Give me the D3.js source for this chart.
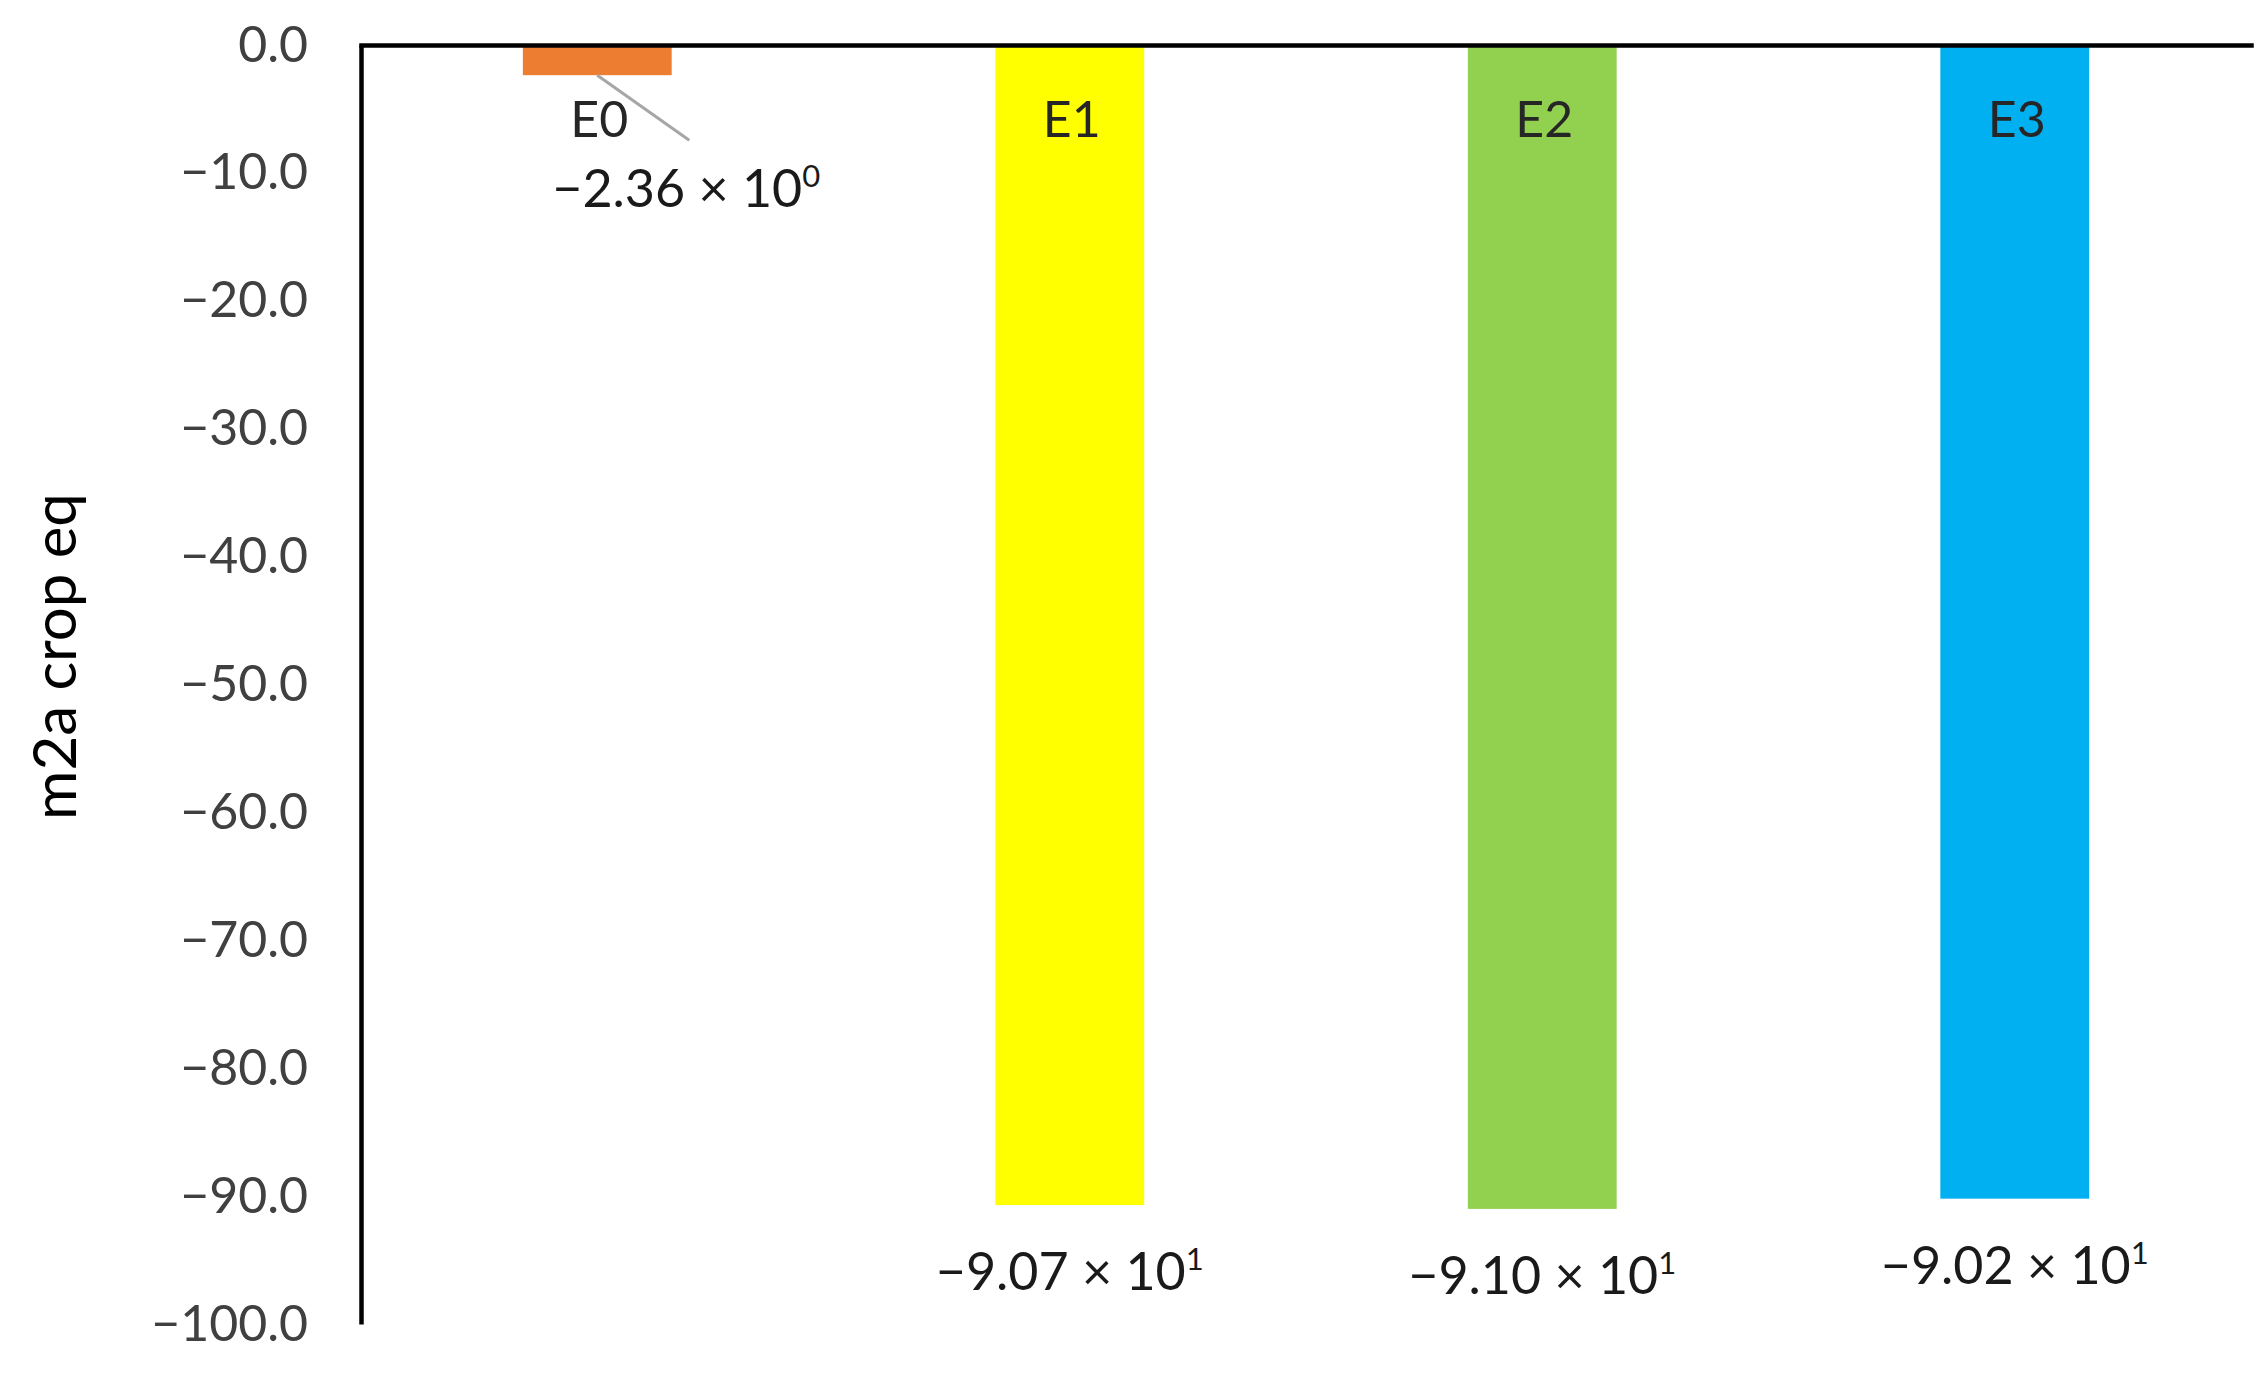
<!DOCTYPE html>
<html>
<head>
<meta charset="utf-8">
<script src="https://cdn.jsdelivr.net/npm/d3@7"></script>
<style>
  html, body { margin: 0; padding: 0; background: #fff; }
  svg { display: block; font-family: Lato, "Open Sans", sans-serif; }
</style>
</head>
<body>
<svg id="chart" width="2267" height="1374"></svg>
<script>
// ---- data ----
const categories = ["E0", "E1", "E2", "E3"];
const values = [-2.36, -90.7, -91.0, -90.2];
const valueMantissa = ["−2.36", "−9.07", "−9.10", "−9.02"];
const valueExponent = ["0", "1", "1", "1"];
const barColors = ["#ED7D31", "#FFFF00", "#92D050", "#00B0F0"];
const yTicks = [0, -10, -20, -30, -40, -50, -60, -70, -80, -90, -100];
const yTitle = "m2a crop eq";

// ---- layout ----
const W = 2267, H = 1374;
const margin = { left: 361, right: 16, top: 45, bottom: 50 };
const svg = d3.select("#chart");

const x = d3.scaleBand()
  .domain(categories)
  .range([margin.left, W - margin.right])
  .paddingInner(0.685)
  .paddingOuter(0.3425);

const y = d3.scaleLinear()
  .domain([0, -100])
  .range([margin.top, H - margin.bottom]);

// bars
svg.append("g").selectAll("rect")
  .data(categories)
  .join("rect")
  .attr("x", d => x(d))
  .attr("width", x.bandwidth())
  .attr("y", y(0))
  .attr("height", (d, i) => y(values[i]) - y(0))
  .attr("fill", (d, i) => barColors[i]);

// y axis
const yAxis = svg.append("g")
  .attr("transform", `translate(${margin.left},0)`)
  .call(d3.axisLeft(y).tickValues(yTicks).tickFormat(d3.format(".1f"))
        .tickSize(0).tickSizeOuter(0).tickPadding(53));
yAxis.select(".domain").attr("stroke", "#000").attr("stroke-width", 4.5);
yAxis.selectAll(".tick text")
  .attr("font-family", "Lato, sans-serif")
  .attr("font-size", 50)
  .attr("fill", "#404040");

// x axis (category axis at zero, no labels)
const xAxis = svg.append("g")
  .attr("transform", `translate(0,${y(0)})`)
  .call(d3.axisTop(x).tickSize(0).tickSizeOuter(0).tickFormat(""));
xAxis.select(".domain").attr("stroke", "#000").attr("stroke-width", 4.5)
  .attr("stroke-linecap", "square");

// category labels
svg.append("g").selectAll("text")
  .data(categories)
  .join("text")
  .attr("x", d => x(d) + x.bandwidth() / 2 + 2)
  .attr("y", y(0) + 92)
  .attr("text-anchor", "middle")
  .attr("font-size", 50)
  .attr("fill", "#262626")
  .text(d => d);

// value labels
const cx = i => x(categories[i]) + x.bandwidth() / 2;
const labelPos = i => {
  if (i === 0) return { x: cx(i) + 89, y: y(values[i]) + 132 };
  return { x: cx(i), y: y(values[i]) + 85 };
};

// leader line for E0
svg.append("line")
  .attr("x1", cx(0))
  .attr("y1", y(values[0]))
  .attr("x2", cx(0) + 92)
  .attr("y2", y(values[0]) + 65)
  .attr("stroke", "#A6A6A6")
  .attr("stroke-width", 3);

const vl = svg.append("g").selectAll("text")
  .data(categories)
  .join("text")
  .attr("x", (d, i) => labelPos(i).x)
  .attr("y", (d, i) => labelPos(i).y)
  .attr("text-anchor", "middle")
  .attr("font-size", 52)
  .attr("fill", "#1a1a1a");
vl.append("tspan").text((d, i) => valueMantissa[i] + " × 10");
vl.append("tspan")
  .attr("font-size", 31)
  .attr("dy", -20)
  .text((d, i) => valueExponent[i]);

// y title
svg.append("text")
  .attr("transform", `translate(76,${(y(-30) + y(-70)) / 2 - 28}) rotate(-90)`)
  .attr("text-anchor", "middle")
  .attr("font-size", 60)
  .attr("fill", "#000")
  .text(yTitle);
</script>
</body>
</html>
